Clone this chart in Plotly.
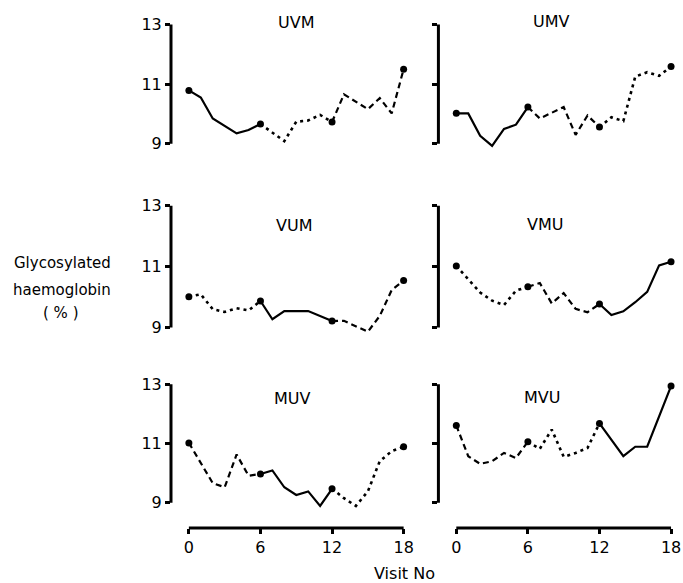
import plotly.graph_objects as go

W, H = 683, 583

panel_names = ["UVM", "UMV", "VUM", "VMU", "MUV", "MVU"]

uvm_visits = [0, 1, 2, 4, 5, 6, 8, 9, 10, 11, 12, 13, 15, 16, 17, 18]
uvm_values = [10.79, 10.55, 9.85, 9.35, 9.46, 9.66, 9.09, 9.74, 9.78, 9.97, 9.73, 10.66, 10.16, 10.53, 10.02, 11.5]

umv_visits = [0, 1, 2, 3, 4, 5, 6, 7, 9, 10, 11, 12, 13, 14, 15, 16, 17, 18]
umv_values = [10.02, 10.02, 9.27, 8.93, 9.50, 9.64, 10.23, 9.85, 10.23, 9.30, 9.95, 9.56, 9.89, 9.76, 11.25, 11.40, 11.28, 11.59]

vum_visits = [0, 1, 2, 3, 4, 5, 6, 7, 8, 10, 12, 13, 15, 16, 17, 18]
vum_values = [10.01, 10.09, 9.60, 9.51, 9.63, 9.56, 9.87, 9.27, 9.54, 9.54, 9.21, 9.22, 8.86, 9.38, 10.23, 10.54]

vmu_visits = [0, 1, 2, 3, 4, 5, 6, 7, 8, 9, 10, 11, 12, 13, 14, 15, 16, 17, 18]
vmu_values = [11.02, 10.57, 10.15, 9.88, 9.74, 10.21, 10.34, 10.46, 9.79, 10.13, 9.61, 9.50, 9.77, 9.41, 9.53, 9.83, 10.17, 11.04, 11.16]

muv_visits = [0, 1, 2, 3, 4, 5, 6, 7, 8, 9, 10, 11, 12, 13, 14, 15, 16, 17, 18]
muv_values = [11.02, 10.34, 9.66, 9.52, 10.63, 9.91, 9.97, 10.09, 9.52, 9.26, 9.38, 8.89, 9.47, 9.15, 8.89, 9.38, 10.40, 10.74, 10.89]

mvu_visits = [0, 1, 2, 3, 4, 5, 6, 7, 8, 9, 10, 11, 12, 14, 15, 16, 18]
mvu_values = [11.61, 10.57, 10.31, 10.40, 10.68, 10.51, 11.06, 10.82, 11.47, 10.55, 10.68, 10.85, 11.68, 10.57, 10.89, 10.89, 12.94]

panel_visits = [uvm_visits, umv_visits, vum_visits, vmu_visits, muv_visits, mvu_visits]
panel_values = [uvm_values, umv_values, vum_values, vmu_values, muv_values, mvu_values]

marker_visits = [0, 6, 12, 18]
y_ticks = [9, 11, 13]
x_ticks = [0, 6, 12, 18]
y_title_lines = ["Glycosylated", "haemoglobin", "( % )"]
x_title = "Visit No"

style_map = {"U": "solid", "V": "3px,4px", "M": "6px,4px"}
width_map = {"U": 2.2, "V": 2.6, "M": 2.2}

FONT = "DejaVu Sans"

# layout geometry (pixels)
col_px = [(172, 412), (441, 681)]
row_px = [(14.5, 158.0), (195.9, 342.3), (375.1, 528.0)]
row_range = [(8.5, 13.3), (8.5, 13.3), (8.14, 13.3)]
x_range = [-1.5, 18.5]
title_px = [(298, 22), (555, 21), (296, 225), (548, 224), (294, 398), (545, 397)]


def px_x(p):
    return p / W


def px_y(p):
    return 1 - p / H


fig = go.Figure()
shapes = []
annotations = []

for i, name in enumerate(panel_names):
    n = i + 1
    r, c = i // 2, i % 2
    xs = "x" if n == 1 else f"x{n}"
    ys = "y" if n == 1 else f"y{n}"
    vis = panel_visits[i]
    val = panel_values[i]
    for k in range(3):
        lo, hi = 6 * k, 6 * k + 6
        sx = [v for v in vis if lo <= v <= hi]
        sy = [val[j] for j, v in enumerate(vis) if lo <= v <= hi]
        letter = name[k]
        fig.add_trace(go.Scatter(
            x=sx, y=sy, mode="lines", xaxis=xs, yaxis=ys,
            line=dict(color="black", width=width_map[letter], dash=style_map[letter]),
            showlegend=False, hoverinfo="skip"))
    my = [val[vis.index(v)] for v in marker_visits]
    fig.add_trace(go.Scatter(
        x=marker_visits, y=my, mode="markers", xaxis=xs, yaxis=ys,
        marker=dict(color="black", size=7), cliponaxis=False,
        showlegend=False, hoverinfo="skip"))

    xd = [px_x(col_px[c][0]), px_x(col_px[c][1])]
    yd = [px_y(row_px[r][1]), px_y(row_px[r][0])]
    xkey = "xaxis" if n == 1 else f"xaxis{n}"
    ykey = "yaxis" if n == 1 else f"yaxis{n}"
    bottom = (r == 2)
    fig.layout[xkey] = dict(
        domain=xd, range=x_range, anchor=ys, showgrid=False, zeroline=False,
        showline=False, tickvals=x_ticks if bottom else [],
        ticks="outside" if bottom else "", ticklen=5, tickwidth=3, tickcolor="black",
        showticklabels=bottom, tickfont=dict(family=FONT, size=16, color="black"),
        fixedrange=True)
    fig.layout[ykey] = dict(
        domain=yd, range=list(row_range[r]), anchor=xs, showgrid=False, zeroline=False,
        showline=False, tickvals=y_ticks, ticks="outside", ticklen=5, tickwidth=3,
        tickcolor="black", showticklabels=(c == 0),
        tickfont=dict(family=FONT, size=16, color="black"), fixedrange=True)

    # vertical bracket axis line from 9 to 13
    shapes.append(dict(type="line", xref=f"{xs} domain", yref=ys, x0=0, x1=0,
                       y0=y_ticks[0], y1=y_ticks[-1], line=dict(color="black", width=3)))
    if bottom:
        shapes.append(dict(type="line", xref=xs, yref=f"{ys} domain",
                           x0=x_ticks[0], x1=x_ticks[-1], y0=0, y1=0,
                           line=dict(color="black", width=3)))

    tx, ty = title_px[i]
    annotations.append(dict(text=name, x=px_x(tx), y=px_y(ty), xref="paper", yref="paper",
                            showarrow=False, xanchor="center", yanchor="middle",
                            font=dict(family=FONT, size=16, color="black")))

for txt, (tx, ty) in zip(y_title_lines, [(63, 262), (62, 289), (61, 313)]):
    annotations.append(dict(text=txt, x=px_x(tx), y=px_y(ty), xref="paper", yref="paper",
                            showarrow=False, xanchor="center", yanchor="middle",
                            font=dict(family=FONT, size=15, color="black")))

annotations.append(dict(text=x_title, x=px_x(407), y=px_y(573), xref="paper", yref="paper",
                        showarrow=False, xanchor="center", yanchor="middle",
                        font=dict(family=FONT, size=16, color="black")))

fig.update_layout(
    width=W, height=H, margin=dict(l=0, r=0, t=0, b=0),
    paper_bgcolor="white", plot_bgcolor="white",
    shapes=shapes, annotations=annotations, showlegend=False)

fig.write_html("out.html", config={"displayModeBar": False},
               post_script="document.body.style.margin='0';document.body.style.overflow='hidden';")
